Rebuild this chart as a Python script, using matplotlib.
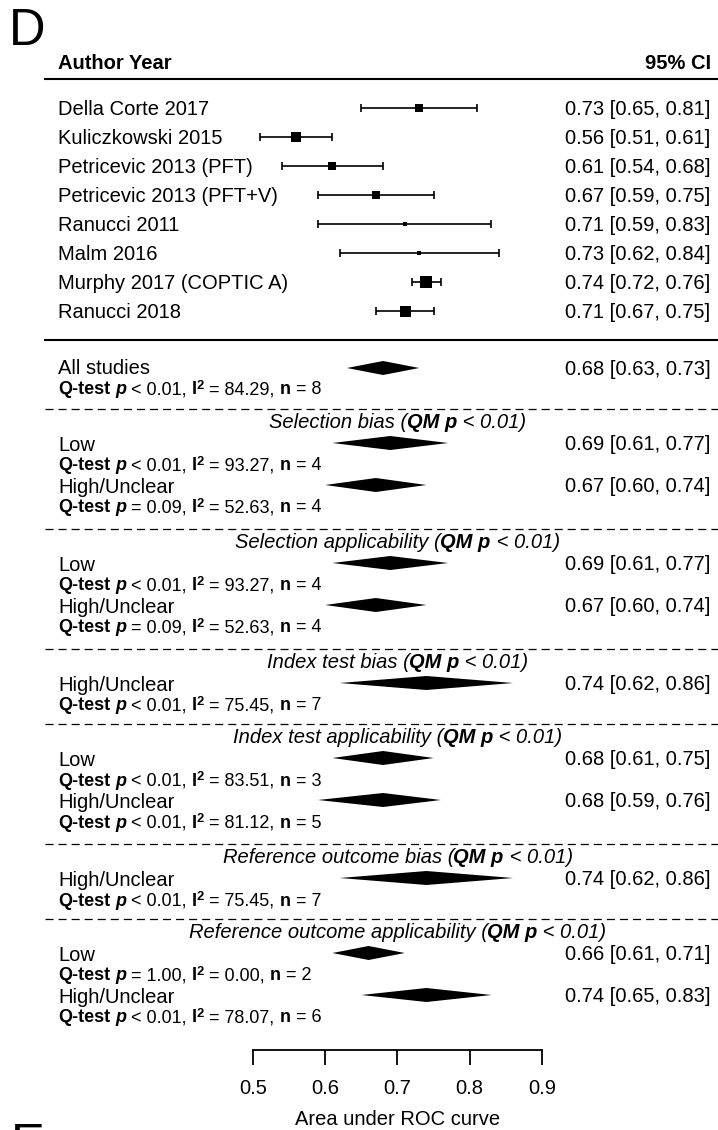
import matplotlib
matplotlib.use('Agg')
import matplotlib.pyplot as plt
from matplotlib.font_manager import FontProperties
from matplotlib.textpath import TextToPath
from matplotlib.transforms import offset_copy

FONT = 'Liberation Sans'
plt.rcParams['font.family'] = FONT
plt.rcParams['lines.scale_dashes'] = False

# individual studies
studies = ['Della Corte 2017', 'Kuliczkowski 2015', 'Petricevic 2013 (PFT)',
           'Petricevic 2013 (PFT+V)', 'Ranucci 2011', 'Malm 2016',
           'Murphy 2017 (COPTIC A)', 'Ranucci 2018']
auc = [0.73, 0.56, 0.61, 0.67, 0.71, 0.73, 0.74, 0.71]
auc_lo = [0.65, 0.51, 0.54, 0.59, 0.59, 0.62, 0.72, 0.67]
auc_hi = [0.81, 0.61, 0.68, 0.75, 0.83, 0.84, 0.76, 0.75]
weights = [8.0, 10.5, 8.5, 7.5, 4.0, 4.5, 12.0, 11.0]

# pooled estimate
pooled = (0.68, 0.63, 0.73)
pooled_q = ('< 0.01', '84.29', 8)

# subgroup analyses
groups = ['Selection bias', 'Selection applicability', 'Index test bias',
          'Index test applicability', 'Reference outcome bias',
          'Reference outcome applicability']
group_qm = ['< 0.01'] * 6
levels = [['Low', 'High/Unclear'], ['Low', 'High/Unclear'], ['High/Unclear'],
          ['Low', 'High/Unclear'], ['High/Unclear'], ['Low', 'High/Unclear']]
sub_est = [[0.69, 0.67], [0.69, 0.67], [0.74], [0.68, 0.68], [0.74], [0.66, 0.74]]
sub_lo = [[0.61, 0.60], [0.61, 0.60], [0.62], [0.61, 0.59], [0.62], [0.61, 0.65]]
sub_hi = [[0.77, 0.74], [0.77, 0.74], [0.86], [0.75, 0.76], [0.86], [0.71, 0.83]]
sub_p = [['< 0.01', '= 0.09'], ['< 0.01', '= 0.09'], ['< 0.01'],
         ['< 0.01', '< 0.01'], ['< 0.01'], ['= 1.00', '< 0.01']]
sub_i2 = [['93.27', '52.63'], ['93.27', '52.63'], ['75.45'], ['83.51', '81.12'],
          ['75.45'], ['0.00', '78.07']]
sub_n = [[4, 4], [4, 4], [7], [3, 5], [7], [2, 6]]

ticks = [0.5, 0.6, 0.7, 0.8, 0.9]

W, H = 718, 1130
fig = plt.figure(figsize=(W / 100, H / 100), dpi=100)
ax = fig.add_axes([0, 0, 1, 1])
ax.set_xlim(0.5 - 253 / 722.5, 0.5 + 465 / 722.5)
ax.set_ylim(H, 0)
for s in ['top', 'left', 'right']:
    ax.spines[s].set_visible(False)
ax.set_yticks([])

ytr = ax.get_yaxis_transform()
t2p = TextToPath()
BIG, SMALL = 14.5, 13


def seg_width(s, fp):
    a = t2p.get_text_width_height_descent('|' + s + '|', fp, ismath=False)[0]
    b = t2p.get_text_width_height_descent('||', fp, ismath=False)[0]
    return a - b


def rich(x, y, parts, size=BIG, ha='left', tr=ytr):
    # parts: (text, weight, style[, size factor, raise in pt]); y = visual centre in px
    parts = [p + (1.0, 0.0) if len(p) == 3 else p for p in parts]
    fps = [FontProperties(family=FONT, size=size * p[3], weight=p[1], style=p[2]) for p in parts]
    ws = [seg_width(p[0], fp) for p, fp in zip(parts, fps)]
    off = {'left': 0, 'center': -sum(ws) / 2, 'right': -sum(ws)}[ha]
    yb = y + 0.36 * size * 100 / 72
    for p, fp, w in zip(parts, fps, ws):
        ax.text(x, yb, p[0], fontproperties=fp, ha='left', va='baseline',
                transform=offset_copy(tr, fig=fig, x=off, y=p[4], units='points'))
        off += w


def qtext(y, p, i2, n):
    rich(58 / W, y, [('Q-test', 'bold', 'normal'), (' ', 'normal', 'normal'),
                     ('p', 'bold', 'italic'), (' ' + p + ', ', 'normal', 'normal'),
                     ('I', 'bold', 'normal'), ('2', 'bold', 'normal', 0.72, 4.2),
                     (' = ' + i2 + ', ', 'normal', 'normal'),
                     ('n', 'bold', 'normal'), (' = ' + str(n), 'normal', 'normal')], size=SMALL)


def diamond(y, est, lo, hi):
    ax.fill([lo, est, hi, est], [y, y - 7, y, y + 7], color='k', lw=0)
    rich(711 / W, y, [('%.2f [%.2f, %.2f]' % (est, lo, hi), 'normal', 'normal')], ha='right')


# header
fig.text(9 / W, 1 - 45 / H, 'D', fontsize=36.5, va='baseline')
fig.text(11 / W, 1 - 1160 / H, 'E', fontsize=36.5, va='baseline')
rich(58 / W, 62, [('Author Year', 'bold', 'normal')])
rich(711 / W, 62, [('95% CI', 'bold', 'normal')], ha='right')
ax.axhline(79, xmin=45 / W, xmax=1, color='k', lw=1.5)

# studies
for i, name in enumerate(studies):
    y = 107.5 + 29 * i
    ax.errorbar(auc[i], y, xerr=[[auc[i] - auc_lo[i]], [auc_hi[i] - auc[i]]], fmt='none',
                ecolor='k', elinewidth=1.2, capsize=3.0, capthick=1.2)
    ax.plot(auc[i], y, marker='s', color='k', markersize=weights[i] * 0.72, mew=0)
    rich(58 / W, y, [(name, 'normal', 'normal')])
    rich(711 / W, y, [('%.2f [%.2f, %.2f]' % (auc[i], auc_lo[i], auc_hi[i]), 'normal', 'normal')],
         ha='right')

ax.axhline(340, xmin=45 / W, xmax=1, color='k', lw=1.5)

# all studies
rich(58 / W, 367, [('All studies', 'normal', 'normal')])
diamond(368, *pooled)
qtext(388, *pooled_q)

# subgroups
d = 409
for g in range(len(groups)):
    ax.axhline(d, xmin=45 / W, xmax=1, color='k', lw=0.9, dashes=(5.8, 3.6))
    rich(0.7, d + 12, [(groups[g] + ' (', 'normal', 'italic'), ('QM p', 'bold', 'italic'),
                       (' ' + group_qm[g] + ')', 'normal', 'italic')], ha='center', tr=ax.transData)
    for k, lev in enumerate(levels[g]):
        y = d + 35 + 42 * k
        rich(58 / W, y, [(lev, 'normal', 'normal')])
        diamond(y - 1, sub_est[g][k], sub_lo[g][k], sub_hi[g][k])
        qtext(y + 20, sub_p[g][k], sub_i2[g][k], sub_n[g][k])
    d += 30 + 45 * len(levels[g])

# x axis
ax.spines['bottom'].set_position(('data', 1050))
ax.spines['bottom'].set_bounds(ticks[0], ticks[-1])
ax.spines['bottom'].set_linewidth(1.3)
ax.set_xticks(ticks)
ax.set_xticklabels(['%.1f' % t for t in ticks])
ax.tick_params(axis='x', direction='out', length=10.8, width=1.3, pad=10, labelsize=BIG)
rich(0.7, 1118, [('Area under ROC curve', 'normal', 'normal')], ha='center', tr=ax.transData)

fig.savefig('out.png', dpi=100)
